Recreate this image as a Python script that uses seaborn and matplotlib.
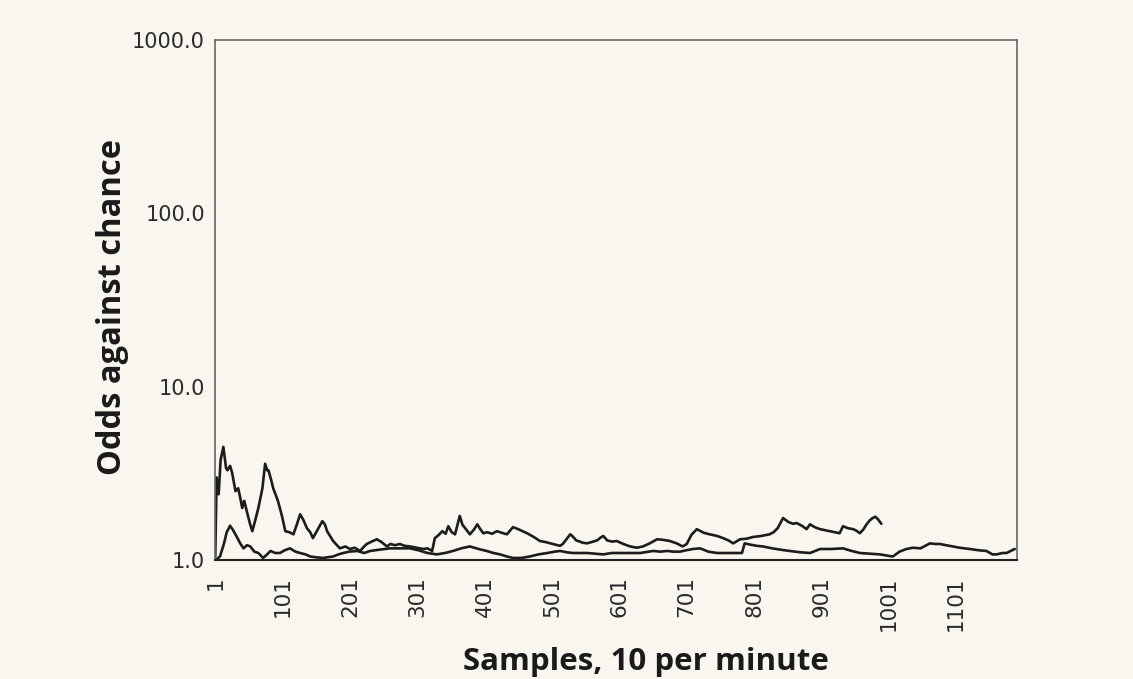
import numpy as np
import pandas as pd
import matplotlib
matplotlib.use('Agg')
import matplotlib.pyplot as plt
import seaborn as sns

# upper, more volatile series (samples 1..990)
a_samples = [1, 3, 6, 9, 13, 17, 19, 23, 26, 31, 35, 38, 41, 44, 48, 53, 56, 60, 65, 71,
             75, 78, 80, 84, 87, 94, 100, 105, 111, 117, 122, 127, 132, 137, 142, 146, 153,
             160, 164, 167, 176, 186, 194, 201, 208, 216, 222, 226, 235, 241, 248, 256, 261,
             268, 275, 282, 290, 300, 310, 316, 323, 327, 333, 338, 343, 347, 352, 357, 364,
             368, 372, 379, 385, 390, 395, 399, 405, 412, 419, 426, 434, 443, 449, 454, 464,
             474, 483, 492, 502, 513, 517, 523, 528, 531, 537, 547, 553, 562, 568, 572, 577,
             583, 590, 597, 607, 617, 627, 636, 646, 657, 666, 676, 686, 695, 701, 708, 716,
             726, 735, 746, 755, 763, 770, 780, 790, 799, 812, 824, 830, 836, 844, 852, 859,
             864, 873, 879, 884, 891, 899, 906, 913, 920, 928, 933, 940, 948, 953, 958, 963,
             968, 973, 977, 981, 985, 990]
a_odds = [1.05, 3.0, 2.4, 3.8, 4.5, 3.4, 3.3, 3.5, 3.2, 2.5, 2.6, 2.3, 2.0, 2.2, 1.9, 1.6, 1.47,
          1.68, 2.0, 2.6, 3.6, 3.3, 3.3, 2.9, 2.6, 2.2, 1.8, 1.47, 1.45, 1.41, 1.6, 1.84, 1.7,
          1.53, 1.45, 1.34, 1.5, 1.68, 1.6, 1.47, 1.29, 1.17, 1.2, 1.16, 1.18, 1.13, 1.2, 1.24,
          1.29, 1.32, 1.27, 1.2, 1.24, 1.22, 1.24, 1.21, 1.2, 1.18, 1.16, 1.17, 1.13, 1.34, 1.4,
          1.47, 1.42, 1.57, 1.45, 1.41, 1.8, 1.6, 1.53, 1.41, 1.5, 1.61, 1.5, 1.43, 1.45, 1.42,
          1.47, 1.44, 1.41, 1.55, 1.52, 1.49, 1.43, 1.36, 1.29, 1.27, 1.24, 1.21, 1.24, 1.33,
          1.41, 1.38, 1.3, 1.26, 1.25, 1.28, 1.3, 1.34, 1.38, 1.3, 1.28, 1.29, 1.24, 1.2, 1.18,
          1.2, 1.25, 1.32, 1.31, 1.29, 1.25, 1.2, 1.24, 1.4, 1.51, 1.44, 1.41, 1.38, 1.34, 1.3,
          1.25, 1.32, 1.33, 1.36, 1.38, 1.41, 1.45, 1.53, 1.75, 1.66, 1.62, 1.64, 1.57, 1.51,
          1.61, 1.55, 1.51, 1.49, 1.47, 1.45, 1.43, 1.57, 1.53, 1.51, 1.48, 1.43, 1.5, 1.61,
          1.7, 1.75, 1.78, 1.72, 1.62]

# lower, smoother series (samples 1..1188)
b_samples = [1, 8, 14, 18, 23, 27, 34, 38, 43, 48, 53, 59, 65, 72, 78, 83, 90, 97, 104, 112,
             120, 127, 135, 142, 150, 161, 168, 176, 184, 191, 200, 212, 222, 231, 245, 260,
             275, 290, 303, 316, 330, 342, 354, 366, 379, 392, 404, 414, 424, 434, 443, 455,
             468, 481, 494, 505, 513, 523, 532, 542, 553, 565, 577, 590, 602, 617, 632, 651,
             662, 672, 681, 691, 700, 710, 721, 733, 746, 764, 776, 783, 787, 795, 805, 814,
             828, 840, 854, 870, 884, 899, 915, 933, 946, 958, 973, 988, 1000, 1007, 1017,
             1027, 1037, 1048, 1062, 1070, 1077, 1086, 1096, 1106, 1121, 1135, 1146, 1155,
             1161, 1170, 1176, 1182, 1188]
b_odds = [1.0, 1.05, 1.25, 1.45, 1.58, 1.5, 1.34, 1.25, 1.17, 1.22, 1.2, 1.12, 1.1, 1.03, 1.08,
          1.13, 1.1, 1.1, 1.14, 1.17, 1.12, 1.1, 1.08, 1.05, 1.04, 1.03, 1.04, 1.05, 1.08, 1.1,
          1.12, 1.13, 1.1, 1.13, 1.15, 1.17, 1.17, 1.17, 1.14, 1.1, 1.08, 1.1, 1.13, 1.17, 1.2,
          1.16, 1.13, 1.1, 1.08, 1.05, 1.03, 1.03, 1.05, 1.08, 1.1, 1.12, 1.13, 1.11, 1.1, 1.1,
          1.1, 1.09, 1.08, 1.1, 1.1, 1.1, 1.1, 1.13, 1.12, 1.13, 1.12, 1.12, 1.14, 1.16, 1.17,
          1.12, 1.1, 1.1, 1.1, 1.1, 1.25, 1.23, 1.21, 1.2, 1.17, 1.15, 1.13, 1.11, 1.1, 1.16,
          1.16, 1.17, 1.13, 1.1, 1.09, 1.08, 1.06, 1.05, 1.12, 1.16, 1.18, 1.17, 1.25, 1.24,
          1.24, 1.22, 1.2, 1.18, 1.16, 1.14, 1.13, 1.08, 1.08, 1.1, 1.1, 1.13, 1.16]

x_ticks = [1, 101, 201, 301, 401, 501, 601, 701, 801, 901, 1001, 1101]
y_ticks = [1.0, 10.0, 100.0, 1000.0]
y_ticklabels = ['1.0', '10.0', '100.0', '1000.0']

bg = '#f8f6ee'
sns.set_style('white')
plt.rcParams['font.family'] = ['Open Sans', 'DejaVu Sans']

fig = plt.figure(figsize=(11.33, 6.79), dpi=100, facecolor=bg)
ax = fig.add_axes([0.19, 0.175, 0.708, 0.766])
ax.set_facecolor(bg)

df_a = pd.DataFrame({'sample': a_samples, 'odds': a_odds})
df_b = pd.DataFrame({'sample': b_samples, 'odds': b_odds})
sns.lineplot(data=df_a, x='sample', y='odds', ax=ax, color='#1c1c1c', linewidth=1.9)
sns.lineplot(data=df_b, x='sample', y='odds', ax=ax, color='#1c1c1c', linewidth=1.9)

ax.set_yscale('log')
ax.set_ylim(1.0, 1000.0)
ax.set_xlim(1, 1192)
ax.set_yticks(y_ticks)
ax.set_yticklabels(y_ticklabels)
ax.yaxis.set_minor_locator(matplotlib.ticker.NullLocator())
ax.set_xticks(x_ticks)
ax.set_xticklabels([str(t) for t in x_ticks], rotation=90)

ax.tick_params(axis='y', direction='inout', length=11, width=1.2, colors='#444444',
               labelsize=15, pad=2)
ax.tick_params(axis='x', direction='inout', length=9, width=1.0, colors='#444444',
               labelsize=15.5, pad=7)
for lbl in ax.get_xticklabels() + ax.get_yticklabels():
    lbl.set_color('#2a2a2a')
    lbl.set_family('DejaVu Sans')

for side in ['left', 'right', 'top']:
    ax.spines[side].set_color('#666666')
    ax.spines[side].set_linewidth(1.2)
ax.spines['bottom'].set_color('#222222')
ax.spines['bottom'].set_linewidth(1.5)

ax.set_xlabel('Samples, 10 per minute', fontsize=22.5, fontweight='bold', color='#1a1a1a')
ax.set_ylabel('Odds against chance', fontsize=23.5, fontweight='bold', color='#1a1a1a')
ax.xaxis.set_label_coords(0.537, -0.166)
ax.yaxis.set_label_coords(-0.108, 0.487)

fig.savefig('out.png', dpi=100, facecolor=bg)
